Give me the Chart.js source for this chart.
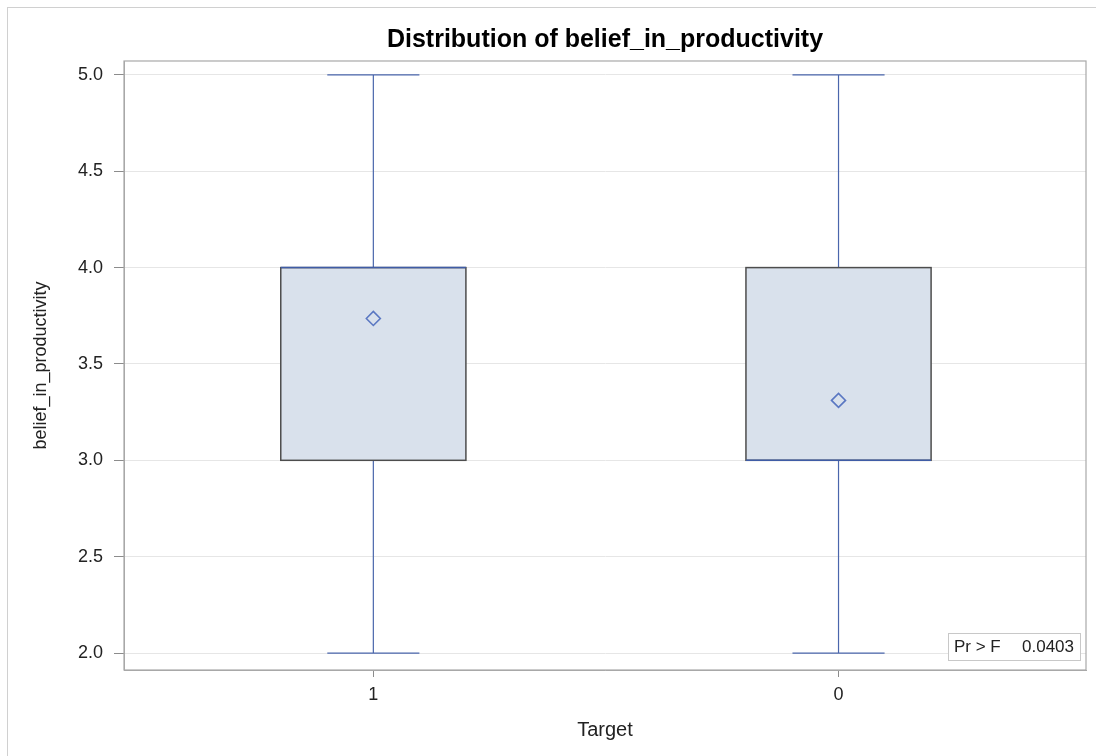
<!DOCTYPE html>
<html>
<head>
<meta charset="utf-8">
<script src="https://cdn.jsdelivr.net/npm/chart.js@4.4.0/dist/chart.umd.min.js"></script>
<style>
  html, body { margin: 0; padding: 0; background: #fff; }
  #wrap { position: relative; width: 1096px; height: 756px; overflow: hidden; }
  #frame { position: absolute; left: 7px; top: 7px; width: 1100px; height: 760px; border: 1px solid #d0d0d0; box-sizing: border-box; }
  canvas { position: absolute; left: 0; top: 0; }
</style>
</head>
<body>
<div id="wrap">
  <div id="frame"></div>
  <canvas id="chart" width="1096" height="756"></canvas>
</div>
<script>
// Data
const categories = ['1', '0'];
const whiskerLow = [2.0, 2.0];
const q1 = [3.0, 3.0];
const medians = [4.0, 3.0];
const q3 = [4.0, 4.0];
const whiskerHigh = [5.0, 5.0];
const means = [3.736, 3.311];
const yTicks = [2.0, 2.5, 3.0, 3.5, 4.0, 4.5, 5.0];
const statLabel = 'Pr > F';
const statValue = '0.0403';

const FONT = "'Liberation Sans', Arial, sans-serif";
const BOX_HALF = 0.199;
const CAP_HALF = 0.099;

// Boxes and whiskers, drawn through the chart scales
const boxPlot = {
    id: 'boxPlot',
    beforeDatasetsDraw(chart) {
        const { ctx, scales: { x, y } } = chart;
        ctx.save();
        categories.forEach((c, i) => {
            const l = x.getPixelForValue(i - BOX_HALF);
            const r = x.getPixelForValue(i + BOX_HALF);
            const cx = x.getPixelForValue(i);
            const cl = x.getPixelForValue(i - CAP_HALF);
            const cr = x.getPixelForValue(i + CAP_HALF);
            const yq1 = y.getPixelForValue(q1[i]);
            const yq3 = y.getPixelForValue(q3[i]);
            const ylo = y.getPixelForValue(whiskerLow[i]);
            const yhi = y.getPixelForValue(whiskerHigh[i]);
            const ymed = y.getPixelForValue(medians[i]);

            ctx.lineWidth = 1.2;
            ctx.strokeStyle = '#4a66ac';
            ctx.beginPath();
            ctx.moveTo(cx, yq3); ctx.lineTo(cx, yhi);
            ctx.moveTo(cl, yhi); ctx.lineTo(cr, yhi);
            ctx.moveTo(cx, yq1); ctx.lineTo(cx, ylo);
            ctx.moveTo(cl, ylo); ctx.lineTo(cr, ylo);
            ctx.stroke();

            ctx.fillStyle = '#d9e1ec';
            ctx.fillRect(l, yq3, r - l, yq1 - yq3);
            ctx.strokeStyle = '#4d4d4d';
            ctx.lineWidth = 1.5;
            ctx.strokeRect(l, yq3, r - l, yq1 - yq3);

            ctx.strokeStyle = '#3f5ca6';
            ctx.lineWidth = 1.5;
            ctx.beginPath();
            ctx.moveTo(l, ymed); ctx.lineTo(r, ymed);
            ctx.stroke();
        });
        ctx.restore();
    },
    afterDraw(chart) {
        const { ctx, chartArea: a } = chart;
        ctx.save();
        ctx.strokeStyle = '#a8a8a8';
        ctx.lineWidth = 1.2;
        ctx.strokeRect(a.left, a.top, a.right - a.left, a.bottom - a.top);

        // inset statistic
        ctx.font = '17px ' + FONT;
        const bw = 132, bh = 27;
        const bx = a.right - 6 - bw, by = a.bottom - 10 - bh;
        ctx.fillStyle = '#fff';
        ctx.fillRect(bx, by, bw, bh);
        ctx.strokeStyle = '#c8c8c8';
        ctx.lineWidth = 1;
        ctx.strokeRect(bx + 0.5, by + 0.5, bw, bh);
        ctx.fillStyle = '#222';
        ctx.textBaseline = 'middle';
        ctx.textAlign = 'left';
        ctx.fillText(statLabel, bx + 6, by + bh / 2 + 1);
        ctx.textAlign = 'right';
        ctx.fillText(statValue, bx + bw - 6, by + bh / 2 + 1);
        ctx.restore();
    }
};

new Chart(document.getElementById('chart'), {
    type: 'scatter',
    data: {
        datasets: [{
            label: 'Mean',
            data: means.map((m, i) => ({ x: i, y: m })),
            pointStyle: 'rectRot',
            pointRadius: 7,
            pointHoverRadius: 7,
            backgroundColor: 'rgba(0,0,0,0)',
            borderColor: '#5a77c2',
            borderWidth: 1.6
        }]
    },
    options: {
        responsive: false,
        animation: false,
        events: [],
        layout: { padding: { left: 0, right: 10, top: 0, bottom: 0 } },
        plugins: {
            legend: { display: false },
            tooltip: { enabled: false },
            title: {
                display: true,
                fullSize: false,
                text: 'Distribution of belief_in_productivity',
                color: '#000',
                font: { family: FONT, size: 25, weight: 'bold' },
                padding: { top: 25, bottom: 6 }
            }
        },
        scales: {
            x: {
                type: 'linear',
                min: -0.536,
                max: 1.532,
                afterBuildTicks: s => { s.ticks = categories.map((c, i) => ({ value: i })); },
                afterFit: s => { s.height = 86; },
                ticks: {
                    callback: (v) => categories[v],
                    color: '#222',
                    font: { family: FONT, size: 18 },
                    padding: 7
                },
                grid: { drawOnChartArea: false, tickLength: 7, tickColor: '#8c8c8c' },
                border: { color: '#a8a8a8' },
                title: {
                    display: true,
                    text: 'Target',
                    color: '#222',
                    font: { family: FONT, size: 20 },
                    padding: { top: 10, bottom: 14 }
                }
            },
            y: {
                min: 1.912,
                max: 5.072,
                afterBuildTicks: s => { s.ticks = yTicks.map(v => ({ value: v })); },
                afterFit: s => { s.width = 124; },
                ticks: {
                    callback: v => v.toFixed(1),
                    color: '#222',
                    font: { family: FONT, size: 18 },
                    padding: 11
                },
                grid: { color: '#e6e6e6', tickLength: 10, tickColor: '#8c8c8c' },
                border: { color: '#a8a8a8' },
                title: {
                    display: true,
                    text: 'belief_in_productivity',
                    color: '#222',
                    font: { family: FONT, size: 18 },
                    padding: { top: 30, bottom: 10 }
                }
            }
        }
    },
    plugins: [boxPlot]
});
</script>
</body>
</html>
